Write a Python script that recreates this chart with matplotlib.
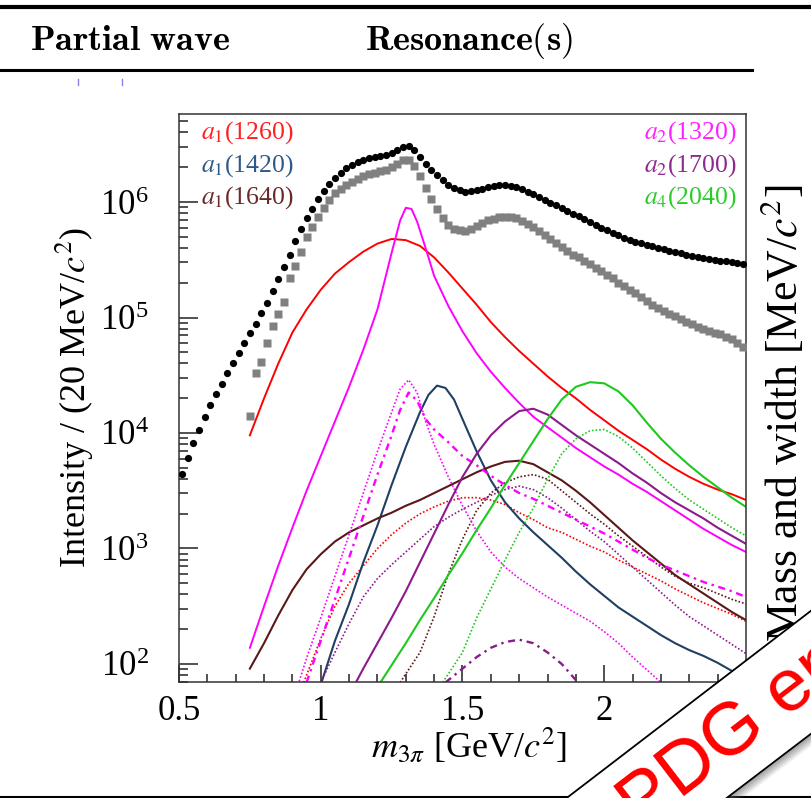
import numpy as np
import matplotlib
matplotlib.use('Agg')
import matplotlib.pyplot as plt
from matplotlib.lines import Line2D
from matplotlib.patches import Polygon
from matplotlib.ticker import MultipleLocator, LogLocator, NullFormatter, FuncFormatter

W, H = 812, 798


def fx(px):
    return px / W


def fy(py):
    return 1 - py / H


plt.rcParams['font.family'] = ['Liberation Serif', 'DejaVu Serif']
plt.rcParams['mathtext.fontset'] = 'stix'

# 20 MeV bins, 0.5 - 2.5 GeV
mass = 0.51 + 0.02 * np.arange(100)

# log10(intensity) of the total (black) and the subset (gray, from 0.75 GeV)
total_log = [3.645, 3.786, 3.911, 4.029, 4.141, 4.242, 4.335, 4.424, 4.517, 4.609,
             4.695, 4.782, 4.863, 4.946, 5.042, 5.128, 5.229, 5.333, 5.440, 5.544,
             5.665, 5.764, 5.861, 5.942, 6.023, 6.095, 6.156, 6.210, 6.254, 6.292,
             6.320, 6.344, 6.364, 6.384, 6.390, 6.400, 6.410, 6.425, 6.450, 6.480,
             6.487, 6.450, 6.390, 6.330, 6.275, 6.230, 6.190, 6.150, 6.120, 6.100,
             6.090, 6.092, 6.100, 6.113, 6.126, 6.137, 6.145, 6.147, 6.140, 6.130,
             6.112, 6.090, 6.068, 6.043, 6.020, 5.995, 5.970, 5.946, 5.922, 5.898,
             5.875, 5.850, 5.825, 5.800, 5.777, 5.755, 5.733, 5.712, 5.692, 5.671,
             5.655, 5.642, 5.628, 5.615, 5.603, 5.590, 5.578, 5.566, 5.555, 5.543,
             5.531, 5.522, 5.512, 5.503, 5.496, 5.490, 5.485, 5.480, 5.473, 5.467]
subset_log = [4.147, 4.517, 4.612, 4.777, 4.926, 5.030, 5.134, 5.339, 5.449, 5.564,
              5.700, 5.781, 5.867, 5.951, 6.017, 6.075, 6.115, 6.147, 6.176, 6.199,
              6.225, 6.240, 6.250, 6.265, 6.280, 6.300, 6.325, 6.360, 6.365, 6.310,
              6.225, 6.124, 6.023, 5.940, 5.860, 5.800, 5.770, 5.755, 5.752, 5.770,
              5.795, 5.820, 5.840, 5.855, 5.868, 5.873, 5.873, 5.860, 5.838, 5.810,
              5.780, 5.745, 5.710, 5.680, 5.645, 5.613, 5.575, 5.545, 5.520, 5.490,
              5.460, 5.430, 5.400, 5.370, 5.340, 5.300, 5.270, 5.240, 5.210, 5.175,
              5.140, 5.110, 5.085, 5.060, 5.030, 5.010, 4.985, 4.960, 4.940, 4.920,
              4.900, 4.885, 4.870, 4.855, 4.835, 4.810, 4.780, 4.745]

grid = [0.75, 0.80, 0.85, 0.90, 0.95, 1.00, 1.05, 1.10, 1.15, 1.20, 1.25, 1.30,
        1.35, 1.40, 1.45, 1.50, 1.55, 1.60, 1.65, 1.70, 1.75, 1.80, 1.85, 1.90,
        1.95, 2.00, 2.05, 2.10, 2.15, 2.20, 2.25, 2.30, 2.35, 2.40, 2.45, 2.50]

a1_1260 = [3.98, 4.30, 4.60, 4.87, 5.07, 5.24, 5.38, 5.48, 5.57, 5.64, 5.68, 5.67,
           5.62, 5.52, 5.39, 5.25, 5.11, 4.96, 4.83, 4.71, 4.60, 4.49, 4.39, 4.30,
           4.20, 4.11, 4.02, 3.94, 3.86, 3.77, 3.69, 3.62, 3.56, 3.51, 3.47, 3.42]
a1_1260_dot_x = [0.94] + grid[5:]
a1_1260_dot = [1.84, 2.22, 2.50, 2.70, 2.85, 3.00, 3.12, 3.22, 3.30, 3.36, 3.41, 3.44,
               3.44, 3.42, 3.38, 3.31, 3.25, 3.18, 3.14, 3.08, 3.02, 2.97, 2.90, 2.84,
               2.78, 2.72, 2.65, 2.59, 2.53, 2.48, 2.43, 2.37]

a1_1420_x = [1.00, 1.05, 1.10, 1.15, 1.20, 1.25, 1.30, 1.35, 1.38, 1.41, 1.44, 1.47,
             1.50] + grid[16:]
a1_1420 = [1.82, 2.20, 2.52, 2.88, 3.20, 3.55, 3.88, 4.18, 4.33, 4.41, 4.39, 4.29,
           4.12, 3.84, 3.59, 3.40, 3.26, 3.14, 3.03, 2.92, 2.80, 2.69, 2.59, 2.49,
           2.41, 2.33, 2.25, 2.18, 2.12, 2.07, 2.01, 1.94, 1.88]

a1_1640 = [1.96, 2.18, 2.42, 2.64, 2.82, 2.95, 3.06, 3.14, 3.20, 3.26, 3.31, 3.37,
           3.42, 3.48, 3.54, 3.60, 3.66, 3.71, 3.75, 3.76, 3.73, 3.66, 3.59, 3.50,
           3.40, 3.29, 3.18, 3.07, 2.97, 2.87, 2.77, 2.69, 2.61, 2.53, 2.45, 2.38]
a1_1640_dot_x = [1.28, 1.35] + grid[13:]
a1_1640_dot = [1.84, 2.10, 2.41, 2.78, 3.08, 3.33, 3.48, 3.57, 3.62, 3.64, 3.60, 3.50,
               3.40, 3.30, 3.21, 3.11, 3.02, 2.93, 2.84, 2.76, 2.70, 2.66, 2.61, 2.56, 2.52]

a2_1320_x = grid[:11] + [1.28, 1.30, 1.32, 1.34, 1.37, 1.40] + grid[14:]
a2_1320 = [2.14, 2.50, 2.85, 3.18, 3.50, 3.80, 4.10, 4.40, 4.72, 5.07, 5.56, 5.84,
           5.95, 5.94, 5.83, 5.60, 5.36, 5.10, 4.88, 4.69, 4.53, 4.39, 4.26, 4.14,
           4.05, 3.96, 3.87, 3.79, 3.71, 3.64, 3.56, 3.49, 3.41, 3.33, 3.25, 3.17,
           3.10, 3.03, 2.97]
a2_1320_dot_x = [0.92, 0.95, 1.00, 1.05, 1.10, 1.15, 1.20, 1.25, 1.28, 1.31, 1.34, 1.37,
                 1.40, 1.45, 1.50, 1.55, 1.60, 1.65, 1.70, 1.75, 1.80, 1.85, 1.90, 1.95,
                 2.00, 2.05, 2.10, 2.15, 2.20, 2.25]
a2_1320_dot = [1.82, 2.05, 2.40, 2.76, 3.12, 3.48, 3.84, 4.18, 4.38, 4.46, 4.35, 4.10,
               3.90, 3.62, 3.37, 3.15, 2.97, 2.84, 2.74, 2.66, 2.58, 2.51, 2.44, 2.37,
               2.28, 2.18, 2.06, 1.95, 1.84, 1.72]
a2_1320_dd_x = [0.95, 1.00, 1.05, 1.10, 1.15, 1.20, 1.25, 1.28, 1.31, 1.34, 1.37, 1.40,
                1.45] + grid[15:]
a2_1320_dd = [1.84, 2.20, 2.56, 2.92, 3.28, 3.64, 3.98, 4.20, 4.35, 4.28, 4.12, 4.03,
              3.92, 3.80, 3.72, 3.63, 3.55, 3.48, 3.43, 3.37, 3.31, 3.25, 3.19, 3.13,
              3.06, 2.99, 2.92, 2.86, 2.81, 2.76, 2.71, 2.67, 2.63, 2.58]

a2_1700_x = grid[7:]
a2_1700 = [1.73, 1.96, 2.18, 2.40, 2.63, 2.88, 3.13, 3.38, 3.62, 3.82, 3.98, 4.10,
           4.19, 4.21, 4.16, 4.07, 3.98, 3.90, 3.82, 3.74, 3.65, 3.57, 3.48, 3.40,
           3.33, 3.26, 3.18, 3.11, 3.04]
a2_1700_dot_x = grid[5:]
a2_1700_dot = [1.84, 2.10, 2.35, 2.58, 2.74, 2.86, 2.97, 3.08, 3.19, 3.27, 3.34, 3.40,
               3.46, 3.51, 3.54, 3.51, 3.44, 3.35, 3.25, 3.15, 3.06, 2.95, 2.84, 2.73,
               2.62, 2.51, 2.41, 2.33, 2.25, 2.17, 2.09]
a2_1700_dd_x = [1.44, 1.50, 1.55, 1.60, 1.65, 1.70, 1.75, 1.80, 1.85, 1.90, 1.93]
a2_1700_dd = [1.84, 1.96, 2.06, 2.14, 2.19, 2.21, 2.18, 2.10, 2.00, 1.86, 1.78]

a4_2040_x = grid[9:]
a4_2040 = [1.80, 1.99, 2.18, 2.38, 2.57, 2.77, 2.96, 3.16, 3.35, 3.55, 3.74, 3.93,
           4.12, 4.29, 4.40, 4.44, 4.43, 4.36, 4.24, 4.09, 3.95, 3.83, 3.72, 3.62,
           3.53, 3.44, 3.36]
a4_2040_dot_x = [1.43] + grid[15:]
a4_2040_dot = [1.84, 2.10, 2.40, 2.65, 2.90, 3.14, 3.35, 3.60, 3.82, 3.95, 4.02, 4.03,
               3.97, 3.87, 3.75, 3.63, 3.52, 3.42, 3.34, 3.26, 3.18, 3.11]

red = '#ff0000'
blue = '#1f3f63'
brown = '#5a1818'
magenta = '#ff00ff'
purple = '#8b1a8b'
green = '#1ec81e'

fig = plt.figure(figsize=(8.12, 7.98), dpi=100)
ax = fig.add_axes([fx(179), fy(682), fx(746) - fx(179), fy(114) - fy(682)])
ax.set_yscale('log')

dot = (0, (1, 1.2))
dd = (0, (3, 2, 1, 2))

ax.plot(mass[12:], 10 ** np.array(subset_log), 's', color='#808080', ms=5.6, mec='none', zorder=3)
ax.plot(mass, 10 ** np.array(total_log), 'o', color='black', ms=5.2, mec='none', zorder=4)

ax.plot(grid, 10 ** np.array(a1_1260), color=red, lw=1.4)
ax.plot(a1_1260_dot_x, 10 ** np.array(a1_1260_dot), color=red, lw=1.2, ls=dot)
ax.plot(a1_1420_x, 10 ** np.array(a1_1420), color=blue, lw=1.5)
ax.plot(grid, 10 ** np.array(a1_1640), color=brown, lw=1.5)
ax.plot(a1_1640_dot_x, 10 ** np.array(a1_1640_dot), color=brown, lw=1.2, ls=dot)
ax.plot(a2_1320_x, 10 ** np.array(a2_1320), color=magenta, lw=1.4)
ax.plot(a2_1320_dot_x, 10 ** np.array(a2_1320_dot), color=magenta, lw=1.2, ls=dot)
ax.plot(a2_1320_dd_x, 10 ** np.array(a2_1320_dd), color=magenta, lw=1.7, ls=dd)
ax.plot(a2_1700_x, 10 ** np.array(a2_1700), color=purple, lw=1.5)
ax.plot(a2_1700_dot_x, 10 ** np.array(a2_1700_dot), color=purple, lw=1.2, ls=dot)
ax.plot(a2_1700_dd_x, 10 ** np.array(a2_1700_dd), color=purple, lw=1.7, ls=dd)
ax.plot(a4_2040_x, 10 ** np.array(a4_2040), color=green, lw=1.5)
ax.plot(a4_2040_dot_x, 10 ** np.array(a4_2040_dot), color=green, lw=1.2, ls=dot)

ax.set_xlim(0.5, 2.5)
ax.set_ylim(10 ** 1.844, 10 ** 6.762)
ax.xaxis.set_major_locator(MultipleLocator(0.5))
ax.xaxis.set_minor_locator(MultipleLocator(0.1))
ax.xaxis.set_major_formatter(FuncFormatter(lambda v, p: '%g' % v))
ax.yaxis.set_major_locator(LogLocator(base=10))
ax.yaxis.set_minor_locator(LogLocator(base=10, subs=np.arange(2, 10)))
ax.yaxis.set_minor_formatter(NullFormatter())
ax.tick_params(which='both', direction='in', top=False, right=False, width=1.1, color='#222222')
ax.tick_params(axis='y', which='major', length=13.5, pad=22, labelsize=25)
ax.tick_params(axis='y', which='minor', length=6.5)
ax.tick_params(axis='x', which='major', length=12, pad=9, labelsize=25)
ax.tick_params(axis='x', which='minor', length=6)
for s in ax.spines.values():
    s.set_linewidth(1.1)
    s.set_color('#333333')

ax.set_xlabel(r'$m_{3\pi}$ [GeV/$c^2$]', fontsize=26)
ax.xaxis.set_label_coords(0.511, -0.078)
ax.set_ylabel(r'Intensity / (20 MeV/$c^2$)', fontsize=26)
ax.yaxis.set_label_coords(-0.147, 0.50)

left_labels = [(r'$a_1$(1260)', '#ff2020'), (r'$a_1$(1420)', '#2e5a88'), (r'$a_1$(1640)', '#6a2a2a')]
right_labels = [(r'$a_2$(1320)', '#ff20ff'), (r'$a_2$(1700)', '#8e2a8e'), (r'$a_4$(2040)', '#2acc2a')]
rows = [133, 165.5, 198]
for (txt, c), py in zip(left_labels, rows):
    fig.text(fx(201), fy(py), txt, color=c, fontsize=18.5, ha='left', va='center')
for (txt, c), py in zip(right_labels, rows):
    fig.text(fx(737), fy(py), txt, color=c, fontsize=18.5, ha='right', va='center')

# table header of the slide
fig.text(fx(30), fy(41), r'$\mathbf{Partial\ wave}$', fontsize=26, math_fontfamily='cm',
         ha='left', va='center')
fig.text(fx(365), fy(41), r'$\mathbf{Resonance(s)}$', fontsize=26, math_fontfamily='cm',
         ha='left', va='center')
fig.add_artist(Line2D([0, 1], [fy(7), fy(7)], color='black', lw=3))
fig.add_artist(Line2D([0, fx(752)], [fy(70), fy(70)], color='black', lw=2.2))
fig.add_artist(Line2D([0, 1], [fy(797), fy(797)], color='black', lw=1.5, zorder=4))
for px in (78, 122):
    fig.add_artist(Line2D([fx(px), fx(px)], [fy(79), fy(85)], color='#8a80e8', lw=1))

# neighbouring plot's axis title
fig.text(fx(783), fy(642), r'Mass and width [MeV/$c^2$]', fontsize=31.5, rotation=90,
         ha='center', va='bottom')

# "PDG entries" banner
band = [(566.7, 798), (812, 610), (812, 733), (726.7, 798)]
fig.add_artist(Polygon([(fx(a), fy(b)) for a, b in band], closed=True, facecolor='white',
                       edgecolor='none', transform=fig.transFigure, zorder=5))
for k, al in zip(range(1, 9), np.linspace(0.45, 0.05, 8)):
    off = k * 1.2
    fig.add_artist(Line2D([fx(726.7 + off * 0.8), fx(812 + off * 0.8)],
                          [fy(798 + off * 0.6), fy(733 + off * 0.6)],
                          color='#606060', alpha=al, lw=1.2, zorder=5))
fig.add_artist(Line2D([fx(566.7), fx(812)], [fy(798), fy(610)], color='black', lw=1.3, zorder=6))
fig.add_artist(Line2D([fx(726.7), fx(812)], [fy(798), fy(733)], color='black', lw=1.3, zorder=6))
fig.text(fx(640), fy(830), 'PDG entries', rotation=37.5, rotation_mode='anchor', ha='left',
         va='baseline', fontsize=54, color='#ff0000', family='Liberation Sans', zorder=7)

fig.savefig('out.png', dpi=100)
